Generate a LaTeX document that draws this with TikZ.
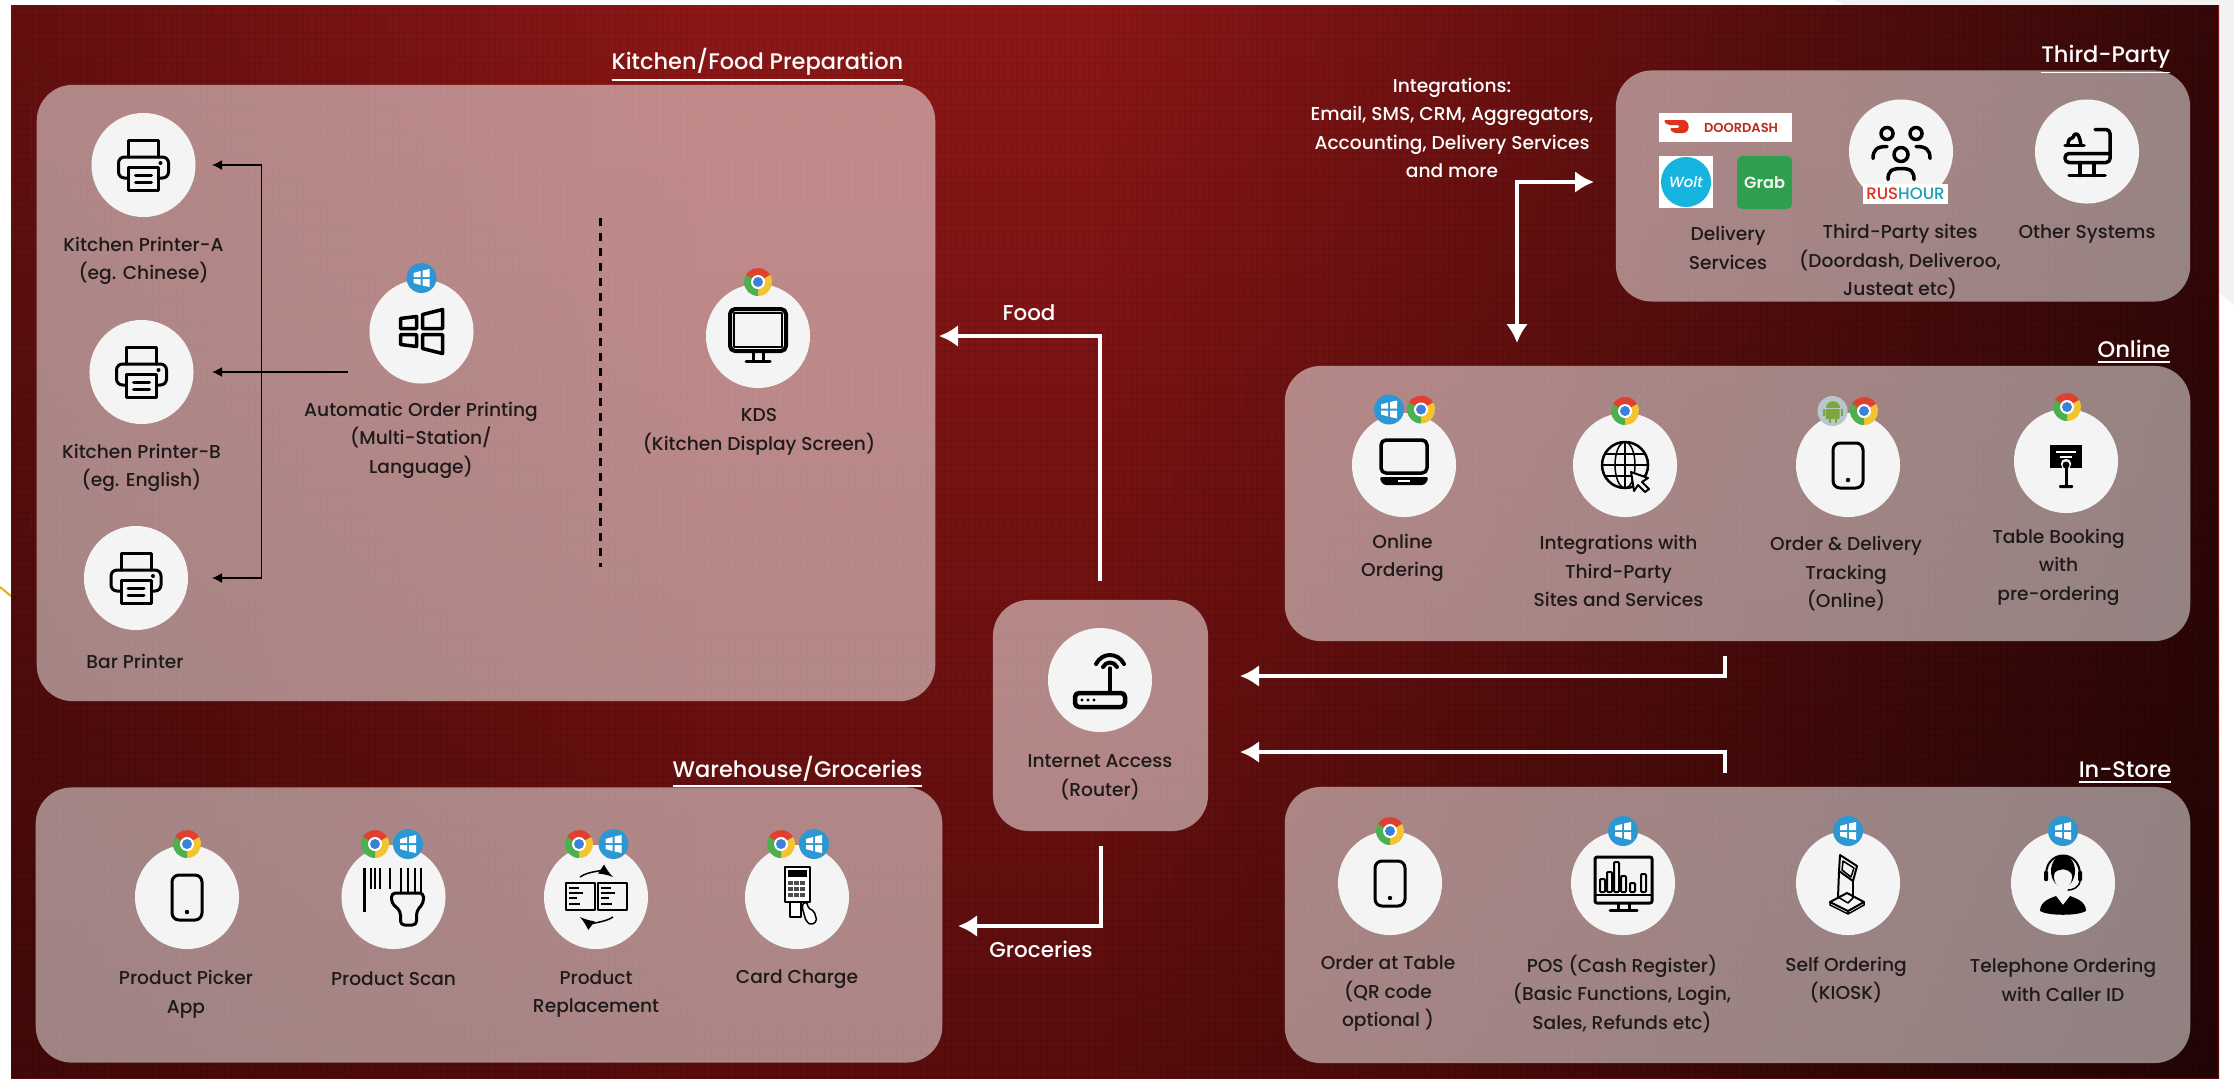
\documentclass[tikz,border=0pt]{standalone}
\usepackage{fontspec}
\setmainfont{Poppins}[UprightFont=* Medium, BoldFont=* SemiBold, ItalicFont=* Medium Italic]
\usetikzlibrary{arrows.meta, fadings}
\definecolor{bgtop}{HTML}{8E1717}
\definecolor{bgmid}{HTML}{801414}
\definecolor{bgbottom}{HTML}{5A0D0D}
\definecolor{sheetgray}{HTML}{F2F2F2}
\definecolor{discwhite}{HTML}{F4F4F4}
\definecolor{lbltext}{HTML}{1E1A1A}
\definecolor{winblue}{HTML}{2B97D3}
\definecolor{chromered}{HTML}{E0402F}
\definecolor{chromeyellow}{HTML}{F4C430}
\definecolor{chromegreen}{HTML}{4CAF50}
\definecolor{chromeblue}{HTML}{3B82D6}
\definecolor{droidgray}{HTML}{B7C7CB}
\definecolor{droidgreen}{HTML}{7DA63F}
\definecolor{dashred}{HTML}{E0301E}
\definecolor{woltblue}{HTML}{16B5E0}
\definecolor{grabgreen}{HTML}{2F9E4F}
\definecolor{rushteal}{HTML}{1C9FB5}
\tikzfading[name=rightdark, left color=transparent!100, right color=transparent!38]
\tikzfading[name=leftdark, left color=transparent!72, right color=transparent!100]
\newcommand{\lblfont}{\fontsize{5.3pt}{8.1pt}\selectfont}
\newcommand{\titlefont}{\fontsize{6.4pt}{8pt}\selectfont}
\tikzset{
disc/.style={circle, fill=discwhite, minimum size=1.04cm, inner sep=0pt},
panel/.style={rectangle, fill=white, fill opacity=.5, rounded corners=.36cm, inner sep=0pt},
lbl/.style={text=lbltext, align=center, inner sep=0pt, font=\lblfont},
whitelbl/.style={lbl, text=white},
grouptitle/.style={text=white, anchor=base east, inner sep=0pt, font=\titlefont},
flowarrow/.style={draw=white, line width=.04cm, -{Latex[length=.19cm,width=.22cm]}},
feedarrow/.style={draw=black, line width=.015cm, -{Latex[length=.1cm,width=.1cm]}},
dividerline/.style={draw=black, line width=.03cm, dash pattern=on .08cm off .07cm},
iconline/.style={draw=black, line width=.03cm, line join=round, line cap=round},
iconthin/.style={draw=black, line width=.015cm, line join=round},
logobox/.style={rectangle, inner sep=0pt},
pics/chromebadge/.style={code={
\fill[chromered] (0,0) -- (210:14) arc[start angle=210, end angle=330, radius=14] -- cycle;
\fill[chromeyellow] (0,0) -- (330:14) arc[start angle=330, end angle=450, radius=14] -- cycle;
\fill[chromegreen] (0,0) -- (90:14) arc[start angle=90, end angle=210, radius=14] -- cycle;
\fill[white] (0,0) circle (7);
\fill[chromeblue] (0,0) circle (5);
}},
pics/winbadge/.style={code={
\fill[winblue] (0,0) circle (15);
\fill[white] (-8,-5) -- (-1,-7) -- (-1,-1) -- (-8,-1) -- cycle;
\fill[white] (1,-7.5) -- (8,-9) -- (8,-1) -- (1,-1) -- cycle;
\fill[white] (-8,1) -- (-1,1) -- (-1,7) -- (-8,5) -- cycle;
\fill[white] (1,1) -- (8,1) -- (8,9) -- (1,7.5) -- cycle;
}},
pics/droidbadge/.style={code={
\fill[droidgray] (0,0) circle (15);
\fill[droidgreen] (-7,-3) .. controls (-7,-12) and (7,-12) .. (7,-3) -- cycle;
\fill[droidgreen, rounded corners=.01cm] (-7,-2) rectangle (7,8);
\fill[droidgreen] (-10,-2) rectangle (-8,5);
\fill[droidgreen] (8,-2) rectangle (10,5);
\fill[droidgreen] (-4,8) rectangle (-2,12);
\fill[droidgreen] (2,8) rectangle (4,12);
}},
pics/printericon/.style={code={
\draw[iconline] (-15,-8) -- (-15,-25) -- (15,-25) -- (15,-8);
\draw[iconline, rounded corners=.06cm] (-15,13) -- (-25,13) -- (-25,-8) -- (25,-8) -- (25,13) -- (15,13);
\draw[iconline, fill=discwhite] (-15,2) rectangle (15,25);
\draw[iconline] (-8,10) -- (8,10);
\draw[iconline] (-8,17) -- (8,17);
\fill (17,-2) circle (2);
}},
pics/windowsicon/.style={code={
\draw[iconline, line width=.035cm] (-21,-13) -- (-5,-15) -- (-5,-3) -- (-21,-3) -- cycle;
\draw[iconline, line width=.035cm] (1,-17) -- (21,-22) -- (21,-3) -- (1,-3) -- cycle;
\draw[iconline, line width=.035cm] (-21,3) -- (-5,3) -- (-5,15) -- (-21,13) -- cycle;
\draw[iconline, line width=.035cm] (1,3) -- (21,3) -- (21,22) -- (1,17) -- cycle;
}},
pics/monitoricon/.style={code={
\draw[iconline, line width=.04cm, rounded corners=.05cm] (-28,-27) rectangle (28,15);
\draw[iconthin] (-24,-23) rectangle (24,11);
\draw[iconline] (-5,15) -- (-5,25);
\draw[iconline] (5,15) -- (5,25);
\draw[iconline] (-12,25) -- (12,25);
}},
pics/laptopicon/.style={code={
\draw[iconline, line width=.035cm, rounded corners=.05cm] (-23,-25) rectangle (23,8);
\fill[rounded corners=.03cm] (-25,12) -- (25,12) -- (21,20) -- (-21,20) -- cycle;
\fill[white] (-6,15) rectangle (6,17);
}},
pics/globeicon/.style={code={
\draw[iconline, line width=.025cm] (0,0) circle (23);
\draw[iconthin] (0,0) ellipse (10 and 23);
\draw[iconthin] (0,-23) -- (0,23);
\draw[iconthin] (-23,0) -- (23,0);
\draw[iconthin] (-20,-11) -- (20,-11);
\draw[iconthin] (-20,11) -- (20,11);
\draw[iconthin, line width=.02cm, fill=discwhite] (6,7) -- (23,13) -- (17,17) -- (24,24) -- (20,27) -- (13,20) -- (9,26) -- cycle;
}},
pics/phoneicon/.style={code={
\draw[iconline, rounded corners=.07cm] (-15,-22) rectangle (15,23);
\fill (0,15) circle (2.2);
}},
pics/boardicon/.style={code={
\fill (-16,-16) rectangle (16,7);
\draw[white, line width=.02cm] (-10,-9) -- (10,-9);
\draw[white, line width=.02cm] (-6,-4) -- (6,-4);
\draw[discwhite, line width=.06cm] (0,3) circle (2);
\fill (0,4) circle (3.5);
\draw[iconline] (0,6) -- (0,24);
\fill[rounded corners=.01cm] (-7,24) rectangle (7,27);
}},
pics/routericon/.style={code={
\draw[iconline, line width=.045cm, rounded corners=.04cm] (-25,13) rectangle (25,27);
\foreach \x in {-18,-12,-6}{
\fill (\x,20) circle (1.6);
}
\draw[iconline, line width=.035cm] (10,13) -- (10,-12);
\draw[iconline, line width=.04cm] (3,-13) .. controls (6,-19) and (14,-19) .. (17,-13);
\draw[iconline, line width=.04cm] (-4,-16) .. controls (2,-28) and (18,-28) .. (24,-16);
}},
pics/peopleicon/.style={code={
\draw[iconline, line width=.035cm] (-14,-18) circle (6);
\draw[iconline, line width=.035cm] (15,-18) circle (6);
\draw[iconline, line width=.035cm] (0,3) circle (7);
\draw[iconline, line width=.035cm] (-28,7) .. controls (-28,-2) and (-24,-5) .. (-14,-5);
\draw[iconline, line width=.035cm] (29,7) .. controls (29,-2) and (25,-5) .. (15,-5);
\draw[iconline, line width=.035cm] (-13,28) .. controls (-13,20) and (-10,17) .. (0,17) .. controls (10,17) and (13,20) .. (13,28);
}},
pics/systemsicon/.style={code={
\draw[iconline, line width=.035cm, rounded corners=.04cm] (8,-22) -- (23,-22) -- (23,11) -- (-22,11) -- (-22,2) -- (23,2);
\draw[iconline, line width=.035cm] (-22,-6) -- (-3,-6);
\draw[iconline, line width=.035cm] (-19,-6) .. controls (-19,-13) and (-17,-13) .. (-14,-14) .. controls (-12,-20) and (-8,-20) .. (-6,-6);
\draw[iconline, line width=.035cm] (-7,11) -- (-7,24);
\draw[iconline, line width=.035cm] (7,11) -- (7,24);
\draw[iconline, line width=.035cm] (-18,24) -- (18,24);
}},
pics/scanicon/.style={code={
\draw[iconthin, line width=.025cm] (-29,-29) -- (-29,15);
\foreach \x in {-23,-19,-14,-4}{
\draw[iconthin, line width=.02cm] (\x,-29) -- (\x,-8);
}
\foreach \x in {7,14,21,27}{
\draw[iconthin, line width=.02cm] (\x,-29) -- (\x,-4);
}
\draw[iconline, rounded corners=.04cm, fill=discwhite] (-2,-4) -- (30,-4) -- (30,6) -- (23,14) -- (23,28) -- (7,28) -- (7,14) -- (-2,6) -- cycle;
}},
pics/swapicon/.style={code={
\draw[iconthin, line width=.02cm] (-30,-14) rectangle (-1,13);
\draw[iconthin, line width=.02cm] (2,-14) rectangle (31,13);
\foreach \x in {-27,5}{
\draw[iconthin] (\x,-9) -- (\x+10,-9);
\draw[iconthin] (\x,-4) -- (\x+14,-4);
\draw[iconthin] (\x,1) -- (\x+8,1);
\draw[iconthin] (\x,7) -- (\x+11,7);
}
\draw[iconthin, ->, >=latex] (-16,-20) .. controls (-8,-26) and (8,-26) .. (17,-20);
\draw[iconthin, ->, >=latex] (17,20) .. controls (8,26) and (-8,26) .. (-16,20);
}},
pics/cardicon/.style={code={
\draw[iconthin, fill=white] (-12,-30) rectangle (13,5);
\fill (-9,-27) rectangle (10,-20);
\foreach \x in {-9,-3,3}{
\foreach \y in {-16,-10,-4}{
\fill[black!70] (\x,\y) rectangle (\x+5,\y+4);
}
}
\draw[iconthin, fill=white] (-7,5) rectangle (4,20);
\draw[iconthin, fill=white, rounded corners=.02cm] (5,10) -- (7,5) -- (10,5) -- (11,11) -- (17,14) -- (20,24) -- (14,28) -- (9,24) -- cycle;
}},
pics/posicon/.style={code={
\draw[iconline, rounded corners=.02cm] (-28,-26) rectangle (29,20);
\draw[iconthin] (-28,12) -- (29,12);
\foreach \x/\h in {-23/13,-16/20,-9/30,-2/16,7/9,18/18}{
\draw[iconthin, line width=.02cm, rounded corners=.01cm] (\x,9) rectangle (\x+5,9-\h);
}
\draw[iconline] (-5,20) -- (-5,26);
\draw[iconline] (6,20) -- (6,26);
\draw[iconline] (-13,27) -- (14,27);
}},
pics/kioskicon/.style={code={
\draw[iconthin, line width=.02cm] (-8,-28) -- (9,-17) -- (5,-2) -- (-9,-12) -- cycle;
\draw[iconthin] (-5,-22) -- (6,-15) -- (3,-6) -- (-6,-13) -- cycle;
\draw[iconthin, line width=.02cm] (-9,-12) -- (-10,14);
\draw[iconthin, line width=.02cm] (5,-2) -- (5,15);
\draw[iconthin, line width=.02cm] (-18,19) -- (-1,10) -- (16,19) -- (0,28) -- cycle;
\draw[iconthin] (-18,19) -- (-18,22) -- (0,31) -- (16,22) -- (16,19);
\draw[iconthin] (0,28) -- (0,31);
\draw[iconthin] (-10,14) -- (0,20) -- (5,15);
}},
pics/agenticon/.style={code={
\fill (0,-12) ellipse (12 and 16);
\fill[discwhite] (0,-6) ellipse (9 and 11);
\fill (-9,-10) .. controls (-5,-14) and (3,-16) .. (9,-9) .. controls (8,-22) and (-8,-22) .. (-9,-10) -- cycle;
\draw[iconline, line width=.02cm] (-17,-8) .. controls (-17,-34) and (17,-34) .. (17,-8);
\fill[rounded corners=.01cm] (-19,-12) rectangle (-15,-2);
\fill[rounded corners=.01cm] (15,-12) rectangle (19,-2);
\draw[iconline, line width=.015cm] (17,-2) .. controls (16,5) and (9,7) .. (5,7);
\fill (-23,28) .. controls (-23,18) and (-12,15) .. (-7,13) -- (0,22) -- (7,13) .. controls (12,15) and (23,18) .. (23,28) .. controls (15,33) and (-15,33) .. (-23,28) -- cycle;
}}
}
\begin{document}
\begin{tikzpicture}[x=.01cm, y=-.01cm]
\useasboundingbox (0,0) rectangle (2234,1078);
\fill[white] (0,0) rectangle (2234,1078);
\fill[sheetgray] (1834,0) -- (2234,0) -- (2234,305) -- (2219,293) -- (2219,5) -- (1844,5) -- cycle;
\draw[draw={rgb,255:red,232;green,168;blue,32}, line width=.02cm] (0,587) -- (11,596);
\shade[top color=bgtop, middle color=bgmid, bottom color=bgbottom] (11,5) rectangle (2219,1078);
\fill[black, path fading=rightdark] (1100,5) rectangle (2219,1078);
\fill[black, path fading=leftdark] (11,5) rectangle (700,1078);
\foreach \x in {15,21,...,2219}{
\draw[black, opacity=.04, line width=.012cm] (\x,5) -- (\x,1078);
}
\foreach \y in {9,15,...,1078}{
\draw[black, opacity=.04, line width=.012cm] (11,\y) -- (2219,\y);
}

\node[panel, minimum width=8.98cm, minimum height=6.16cm] (kitchen) at (486,393) {};
\node[panel, minimum width=9.06cm, minimum height=2.75cm] (warehouse) at (489,925) {};
\node[panel, minimum width=5.74cm, minimum height=2.31cm] (thirdparty) at (1903,186) {};
\node[panel, minimum width=9.05cm, minimum height=2.75cm] (online) at (1737.5,503.5) {};
\node[panel, minimum width=9.05cm, minimum height=2.76cm] (instore) at (1737.5,925) {};
\node[panel, minimum width=2.15cm, minimum height=2.31cm] (router) at (1100.5,715.5) {};

\node[grouptitle] (kitchentitle) at (904,69) {\underline{Kitchen/Food Preparation}};
\node[grouptitle] (warehousetitle) at (923,777) {\underline{Warehouse/Groceries}};
\node[grouptitle] (thirdtitle) at (2171,62) {\underline{Third-Party}};
\node[grouptitle] (onlinetitle) at (2171,357) {\underline{Online}};
\node[grouptitle] (instoretitle) at (2172,777) {\underline{In-Store}};

\foreach \name/\x/\y in {printera/143.5/165, printerb/141.5/372, printerc/136/578, autoprint/421.5/331.5, kds/758/336,
routerdisc/1100/680, sitesdisc/1901/151.5, otherdisc/2087/151.5,
orderingdisc/1404/465, integrationdisc/1625/465, trackingdisc/1848/465, bookingdisc/2066/461,
pickerdisc/187/897, scandisc/393.5/897, swapdisc/596/897, carddisc/797/897,
tabledisc/1390/883, posdisc/1623/883, selfdisc/1848/883, teledisc/2063/883}{
\node[disc] (\name) at (\x,\y) {};
}

\pic at (printera) {printericon};
\pic at (printerb) {printericon};
\pic at (printerc) {printericon};
\pic at (autoprint) {windowsicon};
\pic at (kds) {monitoricon};
\pic at (routerdisc) {routericon};
\pic at (sitesdisc) {peopleicon};
\pic at (otherdisc) {systemsicon};
\pic at (orderingdisc) {laptopicon};
\pic at (integrationdisc) {globeicon};
\pic at (trackingdisc) {phoneicon};
\pic at (bookingdisc) {boardicon};
\pic at (pickerdisc) {phoneicon};
\pic at (scandisc) {scanicon};
\pic at (swapdisc) {swapicon};
\pic at (carddisc) {cardicon};
\pic at (tabledisc) {phoneicon};
\pic at (posdisc) {posicon};
\pic at (selfdisc) {kioskicon};
\pic at (teledisc) {agenticon};

\foreach \x/\y in {421.5/278, 1389/409.5, 1623/831, 1848/831, 2063/831, 408/844, 613.5/844, 814/844}{
\pic at (\x,\y) {winbadge};
}
\foreach \x/\y in {758/282, 1421/409.5, 1625/411, 1864/411, 2067/407, 187/844, 375/844, 579/844, 781/844, 1390/831}{
\pic at (\x,\y) {chromebadge};
}
\pic at (1832.5,411) {droidbadge};

\node[logobox, fill=white, minimum width=1.33cm, minimum height=.29cm] (doordash) at (1725.5,127.5) {};
\node[logobox, text=dashred!85!black, font=\fontsize{3.7pt}{4pt}\selectfont\bfseries] (doordashtext) at (1741,127.5) {DOORDASH};
\fill[dashred, rounded corners=.03cm] (1663,120) -- (1680,120) .. controls (1690,120) and (1691,133) .. (1680,133) -- (1673,133) -- (1669,128) -- (1680,128) -- (1680,125) -- (1667,125) -- cycle;
\node[logobox, fill=white, minimum width=.54cm, minimum height=.52cm] (woltbox) at (1686,182) {};
\node[logobox, circle, fill=woltblue, minimum size=.5cm, text=white, font=\fontsize{4.2pt}{5pt}\selectfont\itshape] (wolt) at (1686,182) {Wolt};
\node[logobox, fill=grabgreen, rounded corners=.05cm, minimum width=.55cm, minimum height=.53cm, text=discwhite, font=\fontsize{4.6pt}{5pt}\selectfont\bfseries] (grab) at (1764.5,182.5) {Grab};
\node[logobox, fill=white, minimum width=.85cm, minimum height=.2cm, font=\fontsize{4.7pt}{5pt}\selectfont] (rushour) at (1905.5,194) {\textcolor{dashred}{RUS}\textcolor{rushteal}{HOUR}};

\node[lbl] (printeralbl) at (143.5,261) {Kitchen Printer-A\\(eg. Chinese)};
\node[lbl] (printerblbl) at (141.5,468) {Kitchen Printer-B\\(eg. English)};
\node[lbl] (printerclbl) at (135,661) {Bar Printer};
\node[lbl] (autolbl) at (421,440) {Automatic Order Printing\\(Multi-Station/\\Language)};
\node[lbl] (kdslbl) at (759,432) {KDS\\(Kitchen Display Screen)};
\node[lbl] (routerlbl) at (1100,777) {Internet Access\\(Router)};
\node[lbl] (deliverylbl) at (1728,248) {Delivery\\Services};
\node[lbl] (siteslbl) at (1900,262) {Third-Party sites\\(Doordash, Deliveroo,\\Justeat etc)};
\node[lbl] (otherlbl) at (2087,234) {Other Systems};
\node[lbl] (orderinglbl) at (1402.5,558) {Online\\Ordering};
\node[lbl] (integrationlbl) at (1618.5,571) {Integrations with\\Third-Party\\Sites and Services};
\node[lbl] (trackinglbl) at (1846,574) {Order \& Delivery\\Tracking\\(Online)};
\node[lbl] (bookinglbl) at (2058.5,567) {Table Booking\\with\\pre-ordering};
\node[lbl] (pickerlbl) at (186,994) {Product Picker\\App};
\node[lbl] (scanlbl) at (393.5,979) {Product Scan};
\node[lbl] (swaplbl) at (596,994) {Product\\Replacement};
\node[lbl] (cardlbl) at (797,979) {Card Charge};
\node[lbl] (tablelbl) at (1388,994) {Order at Table\\(QR code\\optional )};
\node[lbl] (poslbl) at (1622,994) {POS (Cash Register)\\(Basic Functions, Login,\\Sales, Refunds etc)};
\node[lbl] (selflbl) at (1846,980) {Self Ordering\\(KIOSK)};
\node[lbl] (telelbl) at (2063,980) {Telephone Ordering\\with Caller ID};
\node[whitelbl] (integrationstext) at (1452,128) {Integrations:\\Email, SMS, CRM, Aggregators,\\Accounting, Delivery Services\\and more};
\node[whitelbl] (foodlbl) at (1029,313) {\fontsize{6.1pt}{8pt}\selectfont Food};
\node[whitelbl] (grocerieslbl) at (1041,949) {\fontsize{6.1pt}{8pt}\selectfont Groceries};

\coordinate (feedstart) at (348,372);
\coordinate (feedtrunk) at (261.5,372);
\coordinate (feeda) at (212,165);
\coordinate (feedb) at (212,372);
\coordinate (feedc) at (212,578);
\draw[feedarrow] (feedstart) -- (feedb);
\draw[feedarrow] (feedtrunk) |- (feeda);
\draw[feedarrow] (feedtrunk) |- (feedc);

\coordinate (dashtop) at (600,218);
\coordinate (dashbottom) at (600,567);
\draw[dividerline] (dashtop) -- (dashbottom);

\coordinate (foodstart) at (1100,581);
\coordinate (foodend) at (939,336);
\draw[flowarrow] (foodstart) |- (foodend);
\coordinate (grocstart) at (1101,846);
\coordinate (grocend) at (958,926);
\draw[flowarrow] (grocstart) |- (grocend);
\coordinate (onlinestart) at (1725,656);
\coordinate (onlineend) at (1240,676);
\draw[flowarrow] (onlinestart) |- (onlineend);
\coordinate (storestart) at (1725,773);
\coordinate (storeend) at (1240,752);
\draw[flowarrow] (storestart) |- (storeend);
\coordinate (integrationtop) at (1594,182);
\coordinate (integrationbottom) at (1517,343);
\draw[flowarrow, {Latex[length=.19cm,width=.22cm]}-{Latex[length=.19cm,width=.22cm]}] (integrationtop) -| (integrationbottom);
\end{tikzpicture}
\end{document}
